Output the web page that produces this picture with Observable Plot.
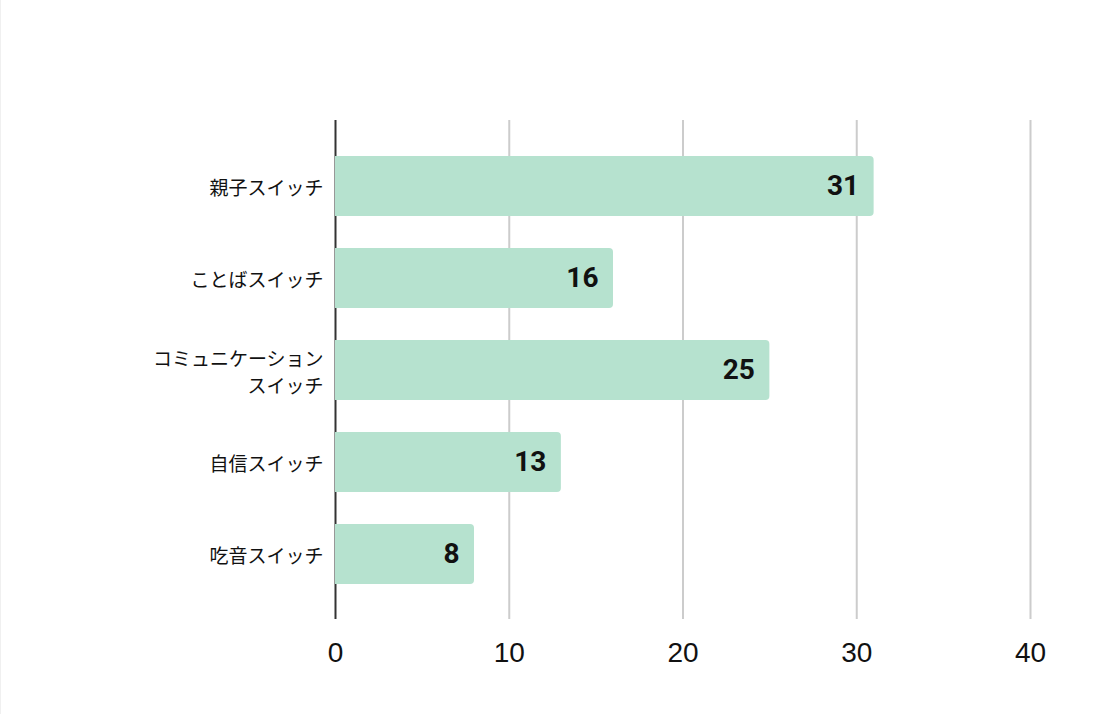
<!DOCTYPE html>
<html>
<head>
<meta charset="utf-8">
<script src="https://cdn.jsdelivr.net/npm/d3@7"></script>
<script src="https://cdn.jsdelivr.net/npm/@observablehq/plot@0.6"></script>
<style>
  html, body { margin: 0; padding: 0; background: #fff; }
  #chart { width: 1096px; height: 714px; box-sizing: border-box; border-left: 1px solid #f0f0f0; }
  svg { display: block; }
</style>
</head>
<body>
<div id="chart"></div>
<script>
const categories = ["親子スイッチ", "ことばスイッチ", "コミュニケーション\nスイッチ", "自信スイッチ", "吃音スイッチ"];
const values = [31, 16, 25, 13, 8];
const xTicks = [0, 10, 20, 30, 40];

const data = categories.map((c, i) => ({category: c, value: values[i]}));

const chart = Plot.plot({
  width: 1095,
  height: 714,
  marginLeft: 334,
  marginRight: 66,
  marginTop: 120,
  marginBottom: 95,
  style: {background: "#fff"},
  x: {domain: [0, 40]},
  y: {domain: categories, paddingInner: 0.35, paddingOuter: 0.375},
  marks: [
    Plot.ruleX(xTicks.filter(d => d !== 0), {stroke: "#cccccc", strokeWidth: 2}),
    Plot.ruleX([0], {stroke: "#333333", strokeWidth: 2}),
    Plot.barX(data, {y: "category", x: "value", fill: "#b6e2cf", rx2: 4}),
    Plot.text(data, {
      y: "category", x: "value", text: d => String(d.value),
      textAnchor: "end", dx: -15, fontSize: 28, fontWeight: "bold",
      fontFamily: "Roboto", fill: "#111"
    }),
    Plot.axisX({
      ticks: xTicks, tickSize: 0, tickPadding: 23, fontSize: 28,
      fontFamily: "Liberation Sans, Arial, sans-serif", fill: "#111", label: null
    }),
    Plot.axisY({
      tickSize: 0, tickPadding: 12, fontSize: 19, lineHeight: 1.45,
      fontFamily: "Noto Sans CJK JP", fill: "#111", label: null
    })
  ]
});
document.getElementById("chart").appendChild(chart);
</script>
</body>
</html>
